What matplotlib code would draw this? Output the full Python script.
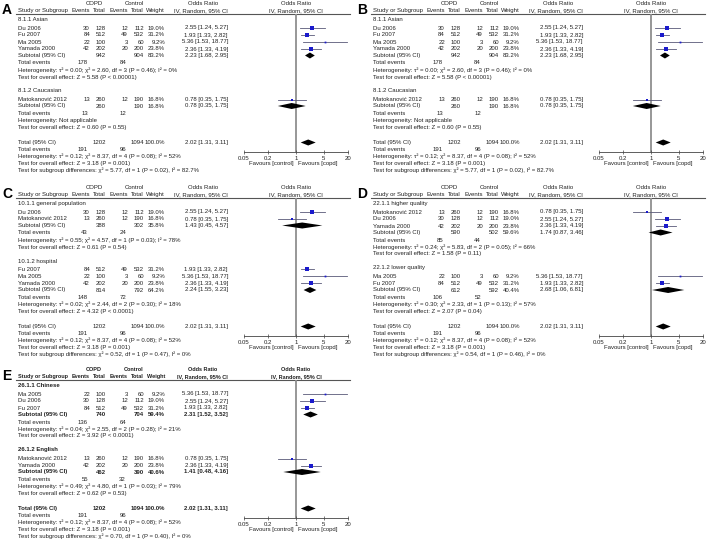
import numpy as np
import matplotlib
matplotlib.use("Agg")
import matplotlib.pyplot as plt

plt.rcParams['font.family'] = ['Liberation Sans', 'DejaVu Sans']

# Studies
study_names = ["Du 2006", "Fu 2007", "Ma 2005", "Yamada 2000", "Matokanović 2012"]
copd_events = [30, 84, 22, 42, 13]
copd_total = [128, 512, 100, 202, 260]
ctrl_events = [12, 49, 3, 20, 12]
ctrl_total = [112, 532, 60, 200, 190]
weights = [19.0, 31.2, 9.2, 23.8, 16.8]
or_est = [2.55, 1.93, 5.36, 2.36, 0.78]
or_lo = [1.24, 1.33, 1.53, 1.33, 0.35]
or_hi = [5.27, 2.82, 18.77, 4.19, 1.75]

# Overall
total_n = [1202, 1094]
total_ev = [191, 96]
total_or = [2.02, 1.31, 3.11]
total_het = "Heterogeneity: τ² = 0.12; χ² = 8.37, df = 4 (P = 0.08); I² = 52%"
total_test = "Test for overall effect: Z = 3.18 (P = 0.001)"

# Subgroup analyses (A and B are the same)
a_titles = ["8.1.1 Asian", "8.1.2 Caucasian"]
a_members = [[0, 1, 2, 3], [4]]
a_sub_n = [[942, 904], [260, 190]]
a_sub_w = [83.2, 16.8]
a_sub_or = [[2.23, 1.68, 2.95], [0.78, 0.35, 1.75]]
a_sub_ev = [[178, 84], [13, 12]]
a_het = ["Heterogeneity: τ² = 0.00; χ² = 2.60, df = 3 (P = 0.46); I² = 0%",
         "Heterogeneity: Not applicable"]
a_test = ["Test for overall effect: Z = 5.58 (P < 0.00001)",
          "Test for overall effect: Z = 0.60 (P = 0.55)"]
a_diff = "Test for subgroup differences: χ² = 5.77, df = 1 (P = 0.02), I² = 82.7%"

c_titles = ["10.1.1 general population", "10.1.2 hospital"]
c_members = [[0, 4], [1, 2, 3]]
c_sub_n = [[388, 302], [814, 792]]
c_sub_w = [35.8, 64.2]
c_sub_or = [[1.43, 0.45, 4.57], [2.24, 1.55, 3.23]]
c_sub_ev = [[43, 24], [148, 72]]
c_het = ["Heterogeneity: τ² = 0.55; χ² = 4.57, df = 1 (P = 0.03); I² = 78%",
         "Heterogeneity: τ² = 0.02; χ² = 2.44, df = 2 (P = 0.30); I² = 18%"]
c_test = ["Test for overall effect: Z = 0.61 (P = 0.54)",
          "Test for overall effect: Z = 4.32 (P < 0.0001)"]
c_diff = "Test for subgroup differences: χ² = 0.52, df = 1 (P = 0.47), I² = 0%"

d_titles = ["22.1.1 higher quality", "22.1.2 lower quality"]
d_members = [[4, 0, 3], [2, 1]]
d_sub_n = [[590, 502], [612, 592]]
d_sub_w = [59.6, 40.4]
d_sub_or = [[1.74, 0.87, 3.46], [2.68, 1.06, 6.81]]
d_sub_ev = [[85, 44], [106, 52]]
d_het = ["Heterogeneity: τ² = 0.24; χ² = 5.83, df = 2 (P = 0.05); I² = 66%",
         "Heterogeneity: τ² = 0.30; χ² = 2.33, df = 1 (P = 0.13); I² = 57%"]
d_test = ["Test for overall effect: Z = 1.58 (P = 0.11)",
          "Test for overall effect: Z = 2.07 (P = 0.04)"]
d_diff = "Test for subgroup differences: χ² = 0.54, df = 1 (P = 0.46), I² = 0%"

e_titles = ["26.1.1 Chinese", "26.1.2 English"]
e_members = [[2, 0, 1], [4, 3]]
e_sub_n = [[740, 704], [462, 390]]
e_sub_w = [59.4, 40.6]
e_sub_or = [[2.31, 1.52, 3.52], [1.41, 0.48, 4.16]]
e_sub_ev = [[136, 64], [55, 32]]
e_het = ["Heterogeneity: τ² = 0.04; χ² = 2.55, df = 2 (P = 0.28); I² = 21%",
         "Heterogeneity: τ² = 0.49; χ² = 4.80, df = 1 (P = 0.03); I² = 79%"]
e_test = ["Test for overall effect: Z = 3.92 (P < 0.0001)",
          "Test for overall effect: Z = 0.62 (P = 0.53)"]
e_diff = "Test for subgroup differences: χ² = 0.70, df = 1 (P = 0.40), I² = 0%"

axis_ticks = [0.05, 0.2, 1, 5, 20]
axis_labels = ["0.05", "0.2", "1", "5", "20"]

W, H = 709, 542
FS = 4.3
TXT = '#222222'

# column positions (relative to panel, pixels)
X_STUDY, X_CE, X_CT, X_KE, X_KT, X_W, X_OR = 18, 90, 106, 128, 144, 165, 228
X_F0, X_F1 = 244, 348
X_MID = (X_F0 + X_F1) / 2


def fmt_or(v):
	return "{:.2f} [{:.2f}, {:.2f}]".format(*v)


def draw_panel(main, fig, x0, y0, label, titles, members, sub_n, sub_w, sub_or,
			   sub_ev, het, test, diff, bold=False):
	bw = 'bold' if bold else 'normal'
	hfs = 4.0 if bold else FS

	def t(x, y, s, ha='left', weight='normal', fs=FS):
		main.text(x0 + x, y, s, ha=ha, va='center', fontsize=fs, color=TXT, fontweight=weight)

	# forest axes, y in picture pixels so it lines up with the table rows
	ytop, ybot = y0 + 14, y0 + 152
	fax = fig.add_axes([(x0 + X_F0) / W, 1 - ybot / H, (X_F1 - X_F0) / W, (ybot - ytop) / H])
	fax.set_xscale('log')
	fax.set_xlim(0.05, 20)
	fax.set_ylim(ybot, ytop)
	fax.patch.set_visible(False)
	for s in ['top', 'left', 'right']:
		fax.spines[s].set_visible(False)
	fax.spines['bottom'].set_color('#444444')
	fax.spines['bottom'].set_linewidth(0.6)
	fax.set_xticks(axis_ticks)
	fax.set_xticklabels(axis_labels)
	fax.minorticks_off()
	fax.set_yticks([])
	fax.tick_params(axis='x', direction='inout', length=3, width=0.5, labelsize=FS,
					pad=1.5, colors='#444444', labelcolor=TXT)
	fax.axvline(1, color='#8f8f8f', lw=1.3, zorder=0)
	xa = fax.get_xaxis_transform()
	fax.text(0.88, -0.085, "Favours [control]", ha='right', va='center', fontsize=FS,
			 color=TXT, transform=xa, clip_on=False)
	fax.text(1.14, -0.085, "Favours [copd]", ha='left', va='center', fontsize=FS,
			 color=TXT, transform=xa, clip_on=False)

	# headers
	main.text(x0 + 2, y0 + 10.5, label, fontsize=10, fontweight='bold', va='center', ha='left')
	t((X_CE + X_CT) / 2 - 4, y0 + 3.5, "COPD", ha='center', weight=bw, fs=hfs)
	t((X_KE + X_KT) / 2 - 2, y0 + 3.5, "Control", ha='center', weight=bw, fs=hfs)
	t(X_OR - 25, y0 + 3.5, "Odds Ratio", ha='center', weight=bw, fs=hfs)
	t(X_MID, y0 + 3.5, "Odds Ratio", ha='center', weight=bw, fs=hfs)
	y = y0 + 10.5
	t(X_STUDY, y, "Study or Subgroup", weight=bw, fs=hfs)
	t(X_CE, y, "Events", ha='right', weight=bw, fs=hfs)
	t(X_CT, y, "Total", ha='right', weight=bw, fs=hfs)
	t(X_KE, y, "Events", ha='right', weight=bw, fs=hfs)
	t(X_KT, y, "Total", ha='right', weight=bw, fs=hfs)
	t(X_W, y, "Weight", ha='right', weight=bw, fs=hfs)
	t(X_OR, y, "IV, Random, 95% CI", ha='right', weight=bw, fs=hfs)
	t(X_MID, y, "IV, Random, 95% CI", ha='center', weight=bw, fs=hfs)
	main.plot([x0 + 16, x0 + 350], [y0 + 14, y0 + 14], color='#555555', lw=0.8)

	def diamond(v, yy, h=3.0):
		fax.fill([v[1], v[0], v[2], v[0]], [yy, yy - h, yy, yy + h], color='black', lw=0)

	y = y0 + 19.5
	for g in range(len(titles)):
		t(X_STUDY, y, titles[g], weight=bw)
		y += 8.5
		for i in members[g]:
			t(X_STUDY, y, study_names[i])
			t(X_CE, y, str(copd_events[i]), ha='right')
			t(X_CT, y, str(copd_total[i]), ha='right')
			t(X_KE, y, str(ctrl_events[i]), ha='right')
			t(X_KT, y, str(ctrl_total[i]), ha='right')
			t(X_W, y, "{:.1f}%".format(weights[i]), ha='right')
			t(X_OR, y, fmt_or([or_est[i], or_lo[i], or_hi[i]]), ha='right')
			fax.plot([or_lo[i], or_hi[i]], [y, y], color='#5a5a78', lw=0.6)
			fax.plot(or_est[i], y, marker='s', ms=0.24 * weights[i] ** 0.75,
					 color='#1a1acc', mew=0)
			y += 7
		y -= 0.5
		t(X_STUDY, y, "Subtotal (95% CI)", weight=bw)
		t(X_CT, y, str(sub_n[g][0]), ha='right', weight=bw)
		t(X_KT, y, str(sub_n[g][1]), ha='right', weight=bw)
		t(X_W, y, "{:.1f}%".format(sub_w[g]), ha='right', weight=bw)
		t(X_OR, y, fmt_or(sub_or[g]), ha='right', weight=bw)
		diamond(sub_or[g], y)
		y += 7.5
		t(X_STUDY, y, "Total events")
		t(X_CE - 2, y, str(sub_ev[g][0]), ha='right')
		t(X_KE - 2, y, str(sub_ev[g][1]), ha='right')
		y += 7
		t(X_STUDY, y, het[g])
		y += 7
		t(X_STUDY, y, test[g])
		y += 14
	y += 1
	t(X_STUDY, y, "Total (95% CI)", weight=bw)
	t(X_CT, y, str(total_n[0]), ha='right', weight=bw)
	t(X_KT, y, str(total_n[1]), ha='right', weight=bw)
	t(X_W, y, "100.0%", ha='right', weight=bw)
	t(X_OR, y, fmt_or(total_or), ha='right', weight=bw)
	diamond(total_or, y)
	y += 7
	t(X_STUDY, y, "Total events")
	t(X_CE - 2, y, str(total_ev[0]), ha='right')
	t(X_KE - 2, y, str(total_ev[1]), ha='right')
	y += 7
	t(X_STUDY, y, total_het)
	y += 7
	t(X_STUDY, y, total_test)
	y += 7
	t(X_STUDY, y, diff)


fig = plt.figure(figsize=(W / 100, H / 100), dpi=100)
main = fig.add_axes([0, 0, 1, 1])
main.set_xlim(0, W)
main.set_ylim(H, 0)
main.axis('off')

draw_panel(main, fig, 0, 0, "A", a_titles, a_members, a_sub_n, a_sub_w, a_sub_or,
		   a_sub_ev, a_het, a_test, a_diff)
draw_panel(main, fig, 355, 0, "B", a_titles, a_members, a_sub_n, a_sub_w, a_sub_or,
		   a_sub_ev, a_het, a_test, a_diff)
draw_panel(main, fig, 0, 184, "C", c_titles, c_members, c_sub_n, c_sub_w, c_sub_or,
		   c_sub_ev, c_het, c_test, c_diff)
draw_panel(main, fig, 355, 184, "D", d_titles, d_members, d_sub_n, d_sub_w, d_sub_or,
		   d_sub_ev, d_het, d_test, d_diff)
draw_panel(main, fig, 0, 366, "E", e_titles, e_members, e_sub_n, e_sub_w, e_sub_or,
		   e_sub_ev, e_het, e_test, e_diff, bold=True)

fig.savefig('out.png', dpi=100)
